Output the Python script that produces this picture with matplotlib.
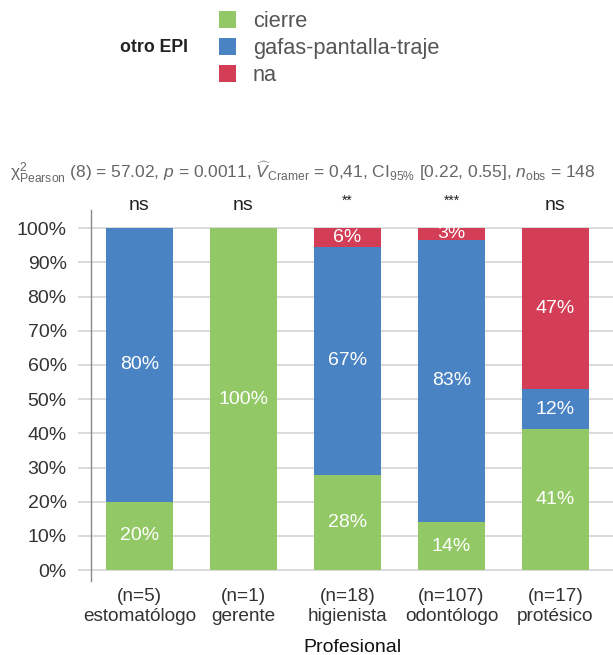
import numpy as np
import matplotlib
matplotlib.use('Agg')
import matplotlib.pyplot as plt
from matplotlib.patches import Patch

plt.rcParams['font.family'] = ['Liberation Sans', 'DejaVu Sans']
plt.rcParams['mathtext.fontset'] = 'custom'
plt.rcParams['mathtext.rm'] = 'Liberation Sans'
plt.rcParams['mathtext.it'] = 'Liberation Sans:italic'
plt.rcParams['mathtext.bf'] = 'Liberation Sans:bold'

# data
profesional = ['estomatólogo', 'gerente', 'higienista', 'odontólogo', 'protésico']
n_obs = [5, 1, 18, 107, 17]
cierre = [20.0, 100.0, 27.8, 14.0, 41.2]
gafas = [80.0, 0.0, 66.7, 82.6, 11.8]
na = [0.0, 0.0, 5.6, 3.4, 47.1]
signif = ['ns', 'ns', '**', '***', 'ns']
categorias = ['cierre', 'gafas-pantalla-traje', 'na']
colores = ['#93C866', '#4A83C4', '#D33D56']

fig = plt.figure(figsize=(6.13, 6.55), dpi=100)
ax = fig.add_axes([91 / 613, 0.1134, 1 - 91 / 613, 0.566])

x = np.arange(len(profesional))
ancho = 0.644
bottom = np.zeros(len(x))
for vals, col in zip([cierre, gafas, na], colores):
    vals = np.array(vals)
    ax.bar(x, vals, ancho, bottom=bottom, color=col, zorder=2)
    for xi, v, b in zip(x, vals, bottom):
        if v > 0:
            ax.text(xi, b + v / 2, '%d%%' % round(v), ha='center', va='center',
                    color='white', fontsize=14, zorder=3)
    bottom = bottom + vals

for xi, s in zip(x, signif):
    if s == 'ns':
        ax.text(xi, 106.5, s, ha='center', va='center', fontsize=14,
                color='#222222', clip_on=False)
    else:
        ax.text(xi, 108, s, ha='center', va='center', fontsize=10,
                color='#222222', clip_on=False)

ax.set_xlim(-0.466, 4.553)
ax.set_ylim(-3.1, 105.3)
ax.set_yticks(np.arange(0, 101, 10))
ax.set_yticklabels(['%d%%' % v for v in range(0, 101, 10)])
ax.yaxis.grid(True, color='#d4d4d4', linewidth=1.2, zorder=0)
ax.set_axisbelow(True)
ax.tick_params(axis='y', length=9.5, width=1.2, color='#d4d4d4', pad=8,
               labelsize=14, labelcolor='#333333')
ax.set_xticks(x)
ax.set_xticklabels(['(n=%d)\n%s' % (n, p) for n, p in zip(n_obs, profesional)],
                   linespacing=1.25)
ax.tick_params(axis='x', length=0, pad=5, labelsize=13.7, labelcolor='#333333')
for sp in ['top', 'right', 'bottom']:
    ax.spines[sp].set_visible(False)
ax.spines['left'].set_color('#888888')
ax.spines['left'].set_linewidth(1.0)
ax.set_xlabel('Profesional', fontsize=14, color='#111111', labelpad=10)

fig.text(10 / 613, 1 - 172 / 655,
         r'$\mathrm{\chi}^2_{\mathrm{Pearson}}$ (8) = 57.02, $\mathit{p}$ = 0.0011, '
         r'$\widehat{V}_{\mathrm{Cramer}}$ = 0,41, CI$_{95\%}$ [0.22, 0.55], '
         r'$\mathit{n}_{\mathrm{obs}}$ = 148',
         fontsize=12.5, color='#666666', va='center', ha='left')

handles = [Patch(facecolor=c, edgecolor='none') for c in colores]
fig.legend(handles, categorias, loc='upper left',
           bbox_to_anchor=(219 / 613, 1 - 11 / 655), frameon=False,
           fontsize=15.7, labelcolor='#555555', handlelength=0.8,
           handleheight=0.8, handletextpad=0.75, labelspacing=0.27,
           borderpad=0, borderaxespad=0)
fig.text(120 / 613, 1 - 47 / 655, 'otro EPI', fontsize=12.8,
         fontweight='bold', color='#222222', va='center', ha='left')

fig.savefig('out.png', dpi=100)
